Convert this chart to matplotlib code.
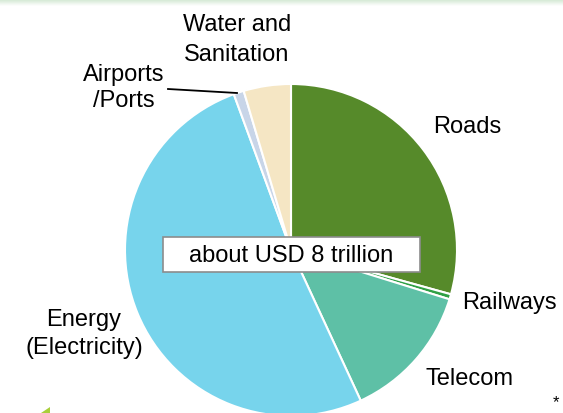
import matplotlib
matplotlib.use("Agg")
import matplotlib.pyplot as plt
import numpy as np
from matplotlib.patches import Polygon, Rectangle

plt.rcParams['font.family'] = ['Liberation Sans', 'DejaVu Sans']

# Share of infrastructure investment need by sector (%)
sectors = ["Roads", "Railways", "Telecom", "Energy\n(Electricity)", "Airports\n/Ports", "Water and\nSanitation"]
shares = [29.3, 0.5, 13.3, 51.3, 1.0, 4.6]
colors = ["#568a2a", "#2fa045", "#5ec0a6", "#77d4ec", "#c8d5e8", "#f5e6c4"]
total_label = "about USD 8 trillion"

W, H = 563, 414
fig = plt.figure(figsize=(W / 100, H / 100), dpi=100)
ax = fig.add_axes([0, 0, 1, 1])
ax.set_xlim(0, W)
ax.set_ylim(0, H)
ax.set_aspect('equal')
ax.axis('off')

# thin green band along the top edge
grad = np.linspace(1, 0, 50).reshape(-1, 1)
band_cmap = matplotlib.colors.LinearSegmentedColormap.from_list("band", ["#ffffff", "#cfe6cf"])
ax.imshow(grad, extent=(0, W, H - 7, H), cmap=band_cmap, aspect='auto', zorder=0)

cx, cy, r = 291, H - 251, 166
ax.pie(shares, colors=colors, startangle=90, counterclock=False,
       center=(cx, cy), radius=r, frame=True,
       wedgeprops=dict(edgecolor="white", linewidth=1.5))
ax.set_xlim(0, W)
ax.set_ylim(0, H)
ax.axis('off')

fs = 17
ax.text(467, H - 127, "Roads", fontsize=fs, ha='center', va='center')
ax.text(509, H - 303, "Railways", fontsize=fs, ha='center', va='center')
ax.text(469, H - 379, "Telecom", fontsize=fs, ha='center', va='center')
ax.text(84, H - 334, "Energy\n(Electricity)", fontsize=fs, ha='center', va='center', linespacing=1.38)
ax.text(124, H - 88, "Airports\n/Ports", fontsize=fs, ha='center', va='center', linespacing=1.25)
ax.text(237, H - 40, "Water and\nSanitation", fontsize=fs, ha='center', va='center', linespacing=1.5)
ax.plot([168, 237], [H - 90, H - 94], color="black", lw=1.3)

ax.add_patch(Rectangle((163, H - 273), 257, 35, facecolor="white", edgecolor="#8c8c8c",
                       linewidth=1.2, zorder=5))
ax.text(291.5, H - 255.5, total_label, fontsize=fs, ha='center', va='center', zorder=6)

ax.text(556, H - 403, "*", fontsize=12, ha='center', va='center')
ax.add_patch(Polygon([[41, 0], [50, 0], [50, 6]], closed=True, facecolor="#a9cf3a", edgecolor="none"))

fig.savefig("out.png", dpi=100)
